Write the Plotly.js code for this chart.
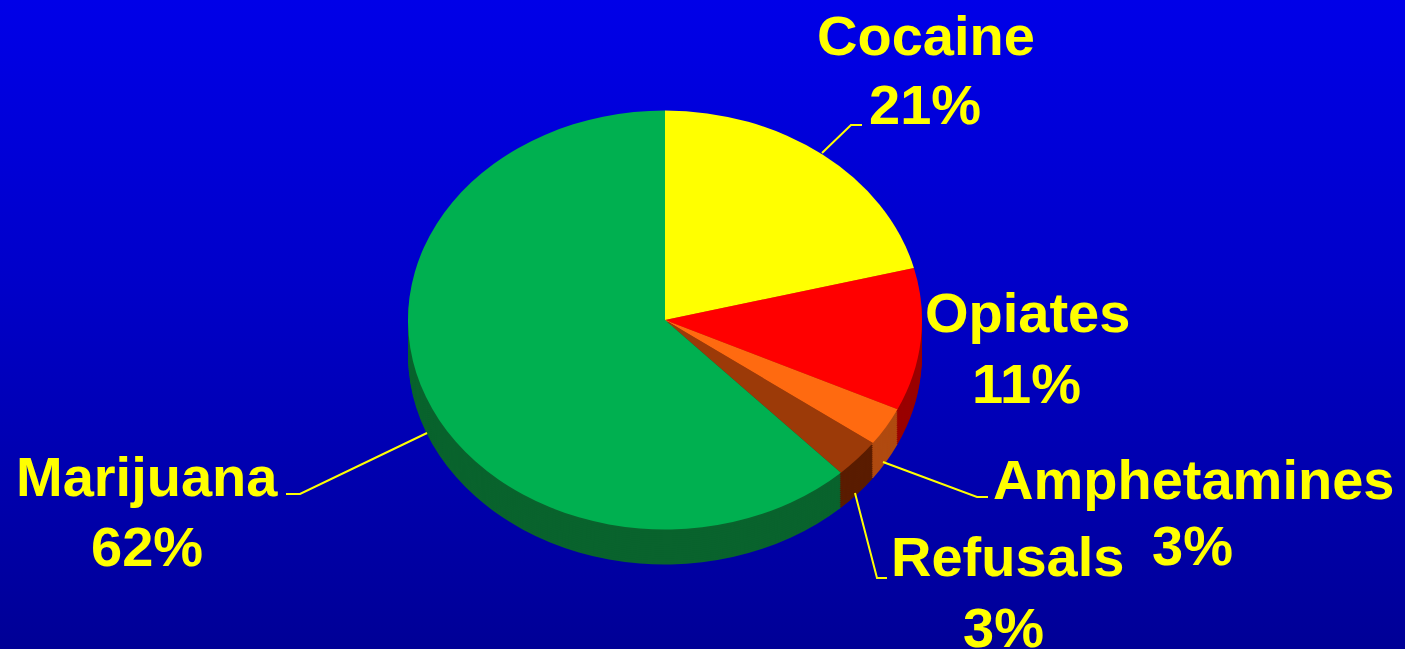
<!DOCTYPE html>
<html>
<head>
<meta charset="utf-8">
<script src="https://cdn.plot.ly/plotly-3.0.1.min.js"></script>
<style>
  html, body { margin: 0; padding: 0; }
  body { width: 1405px; height: 649px; overflow: hidden;
         background: linear-gradient(to bottom, #0000E8 0%, #0000C8 45%, #000096 100%); }
  #chart { width: 1405px; height: 649px; }
</style>
</head>
<body>
<div id="chart"></div>
<script>
// ---- data ----
const labels = ['Cocaine', 'Opiates', 'Amphetamines', 'Refusals', 'Marijuana'];
const values = [21, 11, 3, 3, 62];
const topColors = ['#FFFF00', '#FF0000', '#FF6A10', '#9C3A08', '#00B050'];
const sideColors = ['#A8A800', '#9A0000', '#B04A10', '#5A1C00', '#09632D'];

// ---- geometry (layout only) ----
const W = 1405, H = 649;
const cx = 665, cy = 320, R = 257;      // top face centre / horizontal radius (px)
const squash = 0.815;                   // vertical flattening of the 3D view
const depthOffsets = [];                // pre-squash offsets of the side layers
for (let o = 3; o <= 43; o += 2.5) depthOffsets.push(o);

function dom(offset) {
  const c = cy + offset;
  return {
    x: [(cx - R) / W, (cx + R) / W],
    y: [(H - c - R) / H, (H - c + R) / H]
  };
}
function pieTrace(colors, offset) {
  return {
    type: 'pie', labels: labels, values: values, sort: false,
    direction: 'clockwise', rotation: 0, textinfo: 'none', hoverinfo: 'skip',
    marker: { colors: colors, line: { width: 0 } },
    domain: dom(offset), showlegend: false
  };
}
const data = [];
depthOffsets.slice().reverse().forEach(o => data.push(pieTrace(sideColors, o)));
data.push(pieTrace(topColors, 0));

// ---- label placement (px) ----
const px = (x) => x / W, py = (y) => 1 - y / H;
const labelPos = {
  Cocaine:      { name: [926, 35.5],  pct: [925, 104.5] },
  Opiates:      { name: [1027, 312],  pct: [1026, 383.5] },
  Amphetamines: { name: [1193, 479],  pct: [1192, 545.5] },
  Refusals:     { name: [1007, 556],  pct: [1003, 627] },
  Marijuana:    { name: [147, 476],   pct: [147, 546.5] }
};
const font = { family: 'Liberation Sans, Arial, sans-serif', size: 56, color: '#FFFF00', weight: 'bold' };
const annotations = [];
labels.forEach((lab, i) => {
  const p = labelPos[lab];
  annotations.push({ xref: 'paper', yref: 'paper', x: px(p.name[0]), y: py(p.name[1]),
    xanchor: 'center', yanchor: 'middle', text: lab, showarrow: false, font: font });
  annotations.push({ xref: 'paper', yref: 'paper', x: px(p.pct[0]), y: py(p.pct[1]),
    xanchor: 'center', yanchor: 'middle', text: values[i] + '%', showarrow: false, font: font });
});

// ---- leader lines (px) ----
const leaders = [
  [[822, 153], [851, 125], [862, 125]],
  [[427, 433], [300, 494], [286, 494]],
  [[883, 462], [977, 497], [988, 497]],
  [[855, 493], [877, 578], [887, 578]]
];
const shapes = leaders.map(pts => ({
  type: 'path', xref: 'paper', yref: 'paper',
  path: pts.map((p, k) => (k ? 'L' : 'M') + px(p[0]).toFixed(5) + ',' + py(p[1]).toFixed(5)).join(' '),
  line: { color: '#FFFF00', width: 2 }
}));

const layout = {
  width: W, height: H,
  margin: { l: 0, r: 0, t: 0, b: 0, pad: 0 },
  paper_bgcolor: 'rgba(0,0,0,0)', plot_bgcolor: 'rgba(0,0,0,0)',
  showlegend: false,
  annotations: annotations,
  shapes: shapes
};

Plotly.newPlot('chart', data, layout, { displayModeBar: false, staticPlot: true }).then(gd => {
  const layer = gd.querySelector('.pielayer');
  if (layer) {
    const prev = layer.getAttribute('transform') || '';
    layer.setAttribute('transform', prev + ' matrix(1,0,0,' + squash + ',0,' + (cy * (1 - squash)).toFixed(2) + ')');
  }
});
</script>
</body>
</html>
